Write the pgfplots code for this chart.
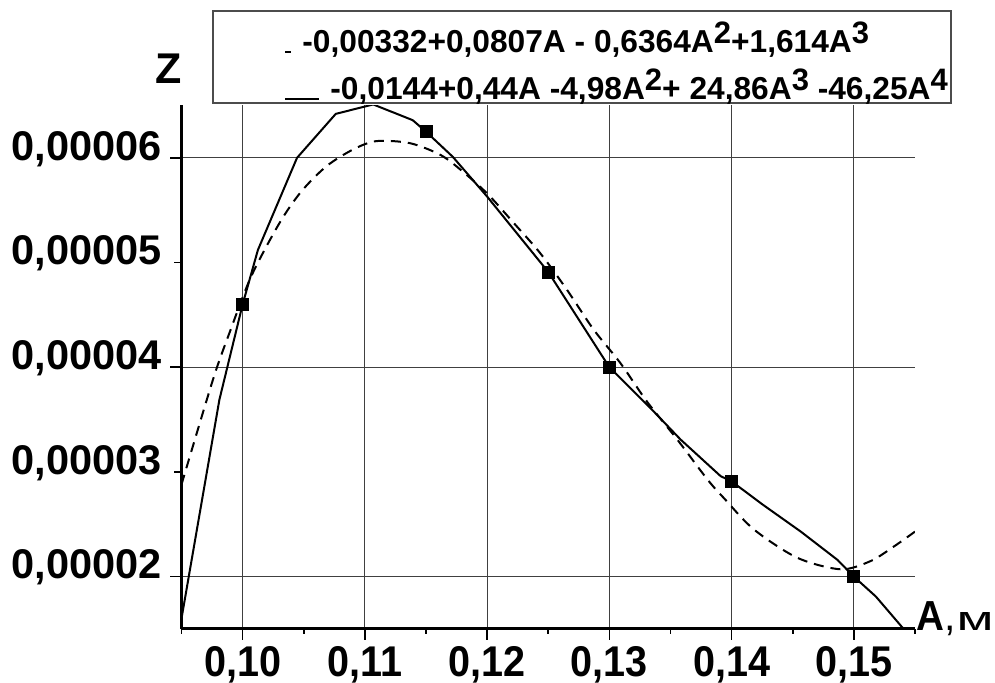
\documentclass[border=0pt]{standalone}
\usepackage{fontspec}
\setmainfont{Liberation Sans}
\newfontfamily\narrowfont{Liberation Sans}[FakeStretch=0.92]
\usepackage{graphicx}
\usepackage{pgfplots}
\pgfplotsset{compat=1.18}
\newcommand{\sups}[1]{\raisebox{0.3em}{\fontsize{15.5}{16}\selectfont #1}}
\begin{document}
\begin{tikzpicture}
\begin{axis}[
  at={(0,0)}, anchor=south west,
  scale only axis,
  width=366.75pt, height=261.75pt,
  xmin=0.095, xmax=0.155,
  ymin=1.5e-5, ymax=6.5e-5,
  axis lines=left,
  axis line style={-, line width=1.5pt},
  tick align=outside,
  major tick length=5.5pt,
  minor tick length=2.5pt,
  tick style={black, line width=0.8pt},
  xtick={0.10,0.11,0.12,0.13,0.14,0.15},
  xticklabels={{0,10},{0,11},{0,12},{0,13},{0,14},{0,15}},
  minor xtick={0.095,0.105,0.115,0.125,0.135,0.145,0.155},
  ytick={2e-5,4e-5,6e-5},
  yticklabels={{0,00002},{0,00004},{0,00006}},
  extra y ticks={3e-5,5e-5},
  extra y tick labels={{0,00003},{0,00005}},
  extra y tick style={grid=none, major tick length=3.5pt, yticklabel style={xshift=-2pt}},
  scaled y ticks=false, scaled x ticks=false,
  xmajorgrids, ymajorgrids,
  major grid style={line width=0.5pt, black!75},
  xticklabel style={font=\narrowfont\bfseries\fontsize{21.5}{24}\selectfont, inner sep=0pt, anchor=north, yshift=-3pt},
  yticklabel style={font=\bfseries\fontsize{20.75}{24}\selectfont, inner sep=0pt, anchor=east, yshift=4.5pt, xshift=-4.25pt},
  clip=true,
]
\addplot[black, line width=1pt, dash pattern=on 5pt off 3.5pt, smooth] coordinates {
(0.095,2.88e-5) (0.09757,3.88e-5) (0.09893,4.33e-5) (0.10071,4.87e-5)
(0.10303,5.38e-5) (0.10481,5.68e-5) (0.10686,5.92e-5) (0.10904,6.08e-5)
(0.11096,6.16e-5) (0.11369,6.14e-5) (0.11615,6.03e-5) (0.11779,5.89e-5)
(0.120,5.66e-5) (0.12216,5.38e-5) (0.12434,5.09e-5) (0.12653,4.74e-5)
(0.12871,4.36e-5) (0.1309,4.04e-5) (0.13309,3.67e-5) (0.13555,3.31e-5)
(0.13801,2.93e-5) (0.13937,2.75e-5) (0.14183,2.45e-5) (0.14538,2.18e-5)
(0.14893,2.07e-5) (0.15139,2.15e-5) (0.1533,2.29e-5) (0.155,2.43e-5)
};
\addplot[black, line width=1pt] coordinates {
(0.095,1.6e-5) (0.0981,3.69e-5) (0.100,4.60e-5) (0.10125,5.12e-5)
(0.10445,6.00e-5) (0.10762,6.42e-5) (0.11068,6.51e-5) (0.11391,6.36e-5)
(0.115,6.25e-5) (0.11719,6.01e-5) (0.120,5.63e-5) (0.125,4.91e-5)
(0.130,4.00e-5) (0.13336,3.61e-5) (0.13582,3.31e-5) (0.1391,2.96e-5)
(0.140,2.91e-5) (0.14252,2.69e-5) (0.14566,2.43e-5) (0.14866,2.16e-5)
(0.150,2.00e-5) (0.1518,1.81e-5) (0.1540,1.51e-5)
};
\addplot[only marks, mark=square*, mark size=3pt, black] coordinates {
(0.100,4.60e-5) (0.115,6.25e-5) (0.125,4.91e-5) (0.130,4.00e-5) (0.140,2.91e-5) (0.150,2.00e-5)
};
\end{axis}
% legend box and text
\draw[line width=0.8pt, black!70] (15.75pt,263pt) rectangle (384.75pt,309pt);
\node[anchor=base west, inner sep=0pt, font=\bfseries\fontsize{15.85}{18}\selectfont] at (51.75pt,288pt)
  {\rule{3pt}{0.9pt}\hspace{5.5pt}-0,00332+0,0807A - 0,6364A\sups{2}+1,614A\sups{3}};
\node[anchor=base west, inner sep=0pt, font=\bfseries\fontsize{15.85}{18}\selectfont] at (51.75pt,264.5pt)
  {\rule{17pt}{0.9pt}\hspace{5.5pt}-0,0144+0,44A -4,98A\sups{2}+ 24,86A\sups{3} -46,25A\sups{4}};
% axis labels
\node[anchor=base, inner sep=0pt, font=\bfseries\fontsize{21.5}{24}\selectfont] at (-6.25pt,272.5pt) {Z};
\node[anchor=base west, inner sep=0pt] at (367.25pt,-1pt)
  {{\narrowfont\bfseries\fontsize{21}{24}\selectfont A}{\fontsize{20.5}{24}\selectfont,}\hspace{0.5pt}\resizebox{18.5pt}{9pt}{м}};
\pgfresetboundingbox
\useasboundingbox (-90.75pt,-27pt) rectangle (406.75pt,314.5pt);
\end{tikzpicture}
\end{document}
